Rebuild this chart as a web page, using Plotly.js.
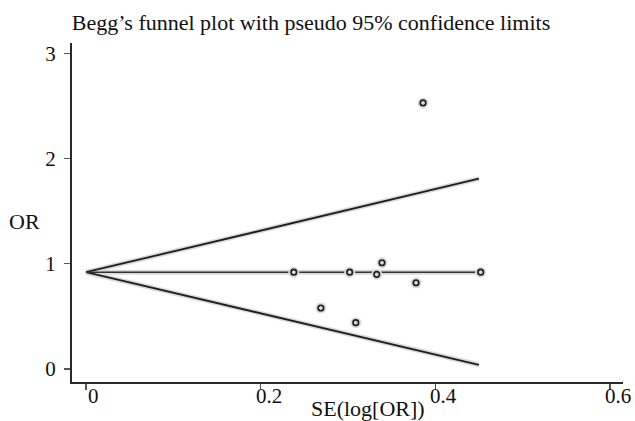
<!DOCTYPE html>
<html>
<head>
<meta charset="utf-8">
<script src="https://cdn.plot.ly/plotly-3.0.1.min.js"></script>
<style>html,body{margin:0;padding:0;background:#fff}</style>
</head>
<body>
<div id="chart" style="width:635px;height:421px"></div>
<script>
// Study points
var seValues = [0.238, 0.269, 0.302, 0.309, 0.333, 0.339, 0.378, 0.386, 0.452];
var orValues = [0.92, 0.58, 0.92, 0.44, 0.90, 1.01, 0.82, 2.53, 0.92];
// Pooled estimate line and pseudo 95% limits
var lineSE = [0, 0.45];
var pooledOR = [0.92, 0.92];
var upperLimit = [0.92, 1.81];
var lowerLimit = [0.92, 0.04];
var xTicks = [0, 0.2, 0.4, 0.6];
var xTickText = ['0', '0.2', '0.4', '0.6'];
var yTicks = [0, 1, 2, 3];
var yTickText = ['0', '1', '2', '3'];

var FONT = '"Liberation Serif", "Times New Roman", Times, serif';
var halo = '#d9d9d9';
var ink = '#1e1e1e';

function lineTrace(x, y, w, c) {
  return {x: x, y: y, mode: 'lines', line: {color: c, width: w}, hoverinfo: 'skip', showlegend: false};
}

var traces = [
  lineTrace(lineSE, upperLimit, 5, halo),
  lineTrace(lineSE, lowerLimit, 5, halo),
  lineTrace(lineSE, pooledOR, 5, halo),
  lineTrace(lineSE, upperLimit, 1.8, ink),
  lineTrace(lineSE, lowerLimit, 1.8, ink),
  lineTrace(lineSE, pooledOR, 1.6, '#333'),
  {x: seValues, y: orValues, mode: 'markers', hoverinfo: 'skip', showlegend: false,
   marker: {symbol: 'circle', size: 11, color: halo}},
  {x: seValues, y: orValues, mode: 'markers', showlegend: false,
   marker: {symbol: 'circle-open', size: 5.5, color: ink, line: {width: 1.7, color: ink}}}
];

// x tick labels placed at the axis' tick values (slightly right of each tick, as in the original)
var xLabelAnns = xTicks.map(function (v, i) {
  return {text: xTickText[i], xref: 'x', yref: 'paper', x: v, y: 0,
          xanchor: 'center', yanchor: 'middle', xshift: 8, yshift: -14, showarrow: false,
          font: {family: FONT, size: 21, color: '#111'}};
});

var layout = {
  width: 635, height: 421,
  margin: {l: 72, r: 12, t: 43, b: 39, pad: 0},
  paper_bgcolor: '#fff', plot_bgcolor: '#fff',
  font: {family: FONT, color: '#111', size: 20},
  showlegend: false,
  title: {text: 'Begg\u2019s funnel plot with pseudo 95% confidence limits',
          font: {family: FONT, size: 22, color: '#111'},
          xref: 'container', x: 311/635, xanchor: 'center',
          yref: 'container', y: 1 - 22/421, yanchor: 'middle'},
  xaxis: {range: [-0.016, 0.615], tickvals: xTicks, ticktext: xTickText, showticklabels: false,
          showgrid: false, zeroline: false, showline: true, linecolor: '#2a2a2a', linewidth: 2,
          ticks: 'outside', ticklen: 6, tickwidth: 1.2, tickcolor: '#555'},
  yaxis: {range: [-0.124, 3.10], tickvals: yTicks, ticktext: yTickText,
          showgrid: false, zeroline: false, showline: true, linecolor: '#2a2a2a', linewidth: 2,
          ticks: 'outside', ticklen: 6, tickwidth: 1.2, tickcolor: '#555',
          ticklabelstandoff: 4,
          tickfont: {family: FONT, size: 21, color: '#111'}},
  annotations: xLabelAnns.concat([
    {text: 'SE(log[OR])', xref: 'paper', yref: 'paper', x: (368-72)/551, y: 0,
     xanchor: 'center', yanchor: 'middle', yshift: -(408-382), showarrow: false,
     font: {family: FONT, size: 22, color: '#111'}},
    {text: 'OR', xref: 'paper', yref: 'paper', x: 0, y: (382-221)/339,
     xanchor: 'center', yanchor: 'middle', xshift: -(72-24), showarrow: false,
     font: {family: FONT, size: 22, color: '#111'}}
  ])
};

Plotly.newPlot('chart', traces, layout, {displayModeBar: false, staticPlot: true});
</script>
</body>
</html>
